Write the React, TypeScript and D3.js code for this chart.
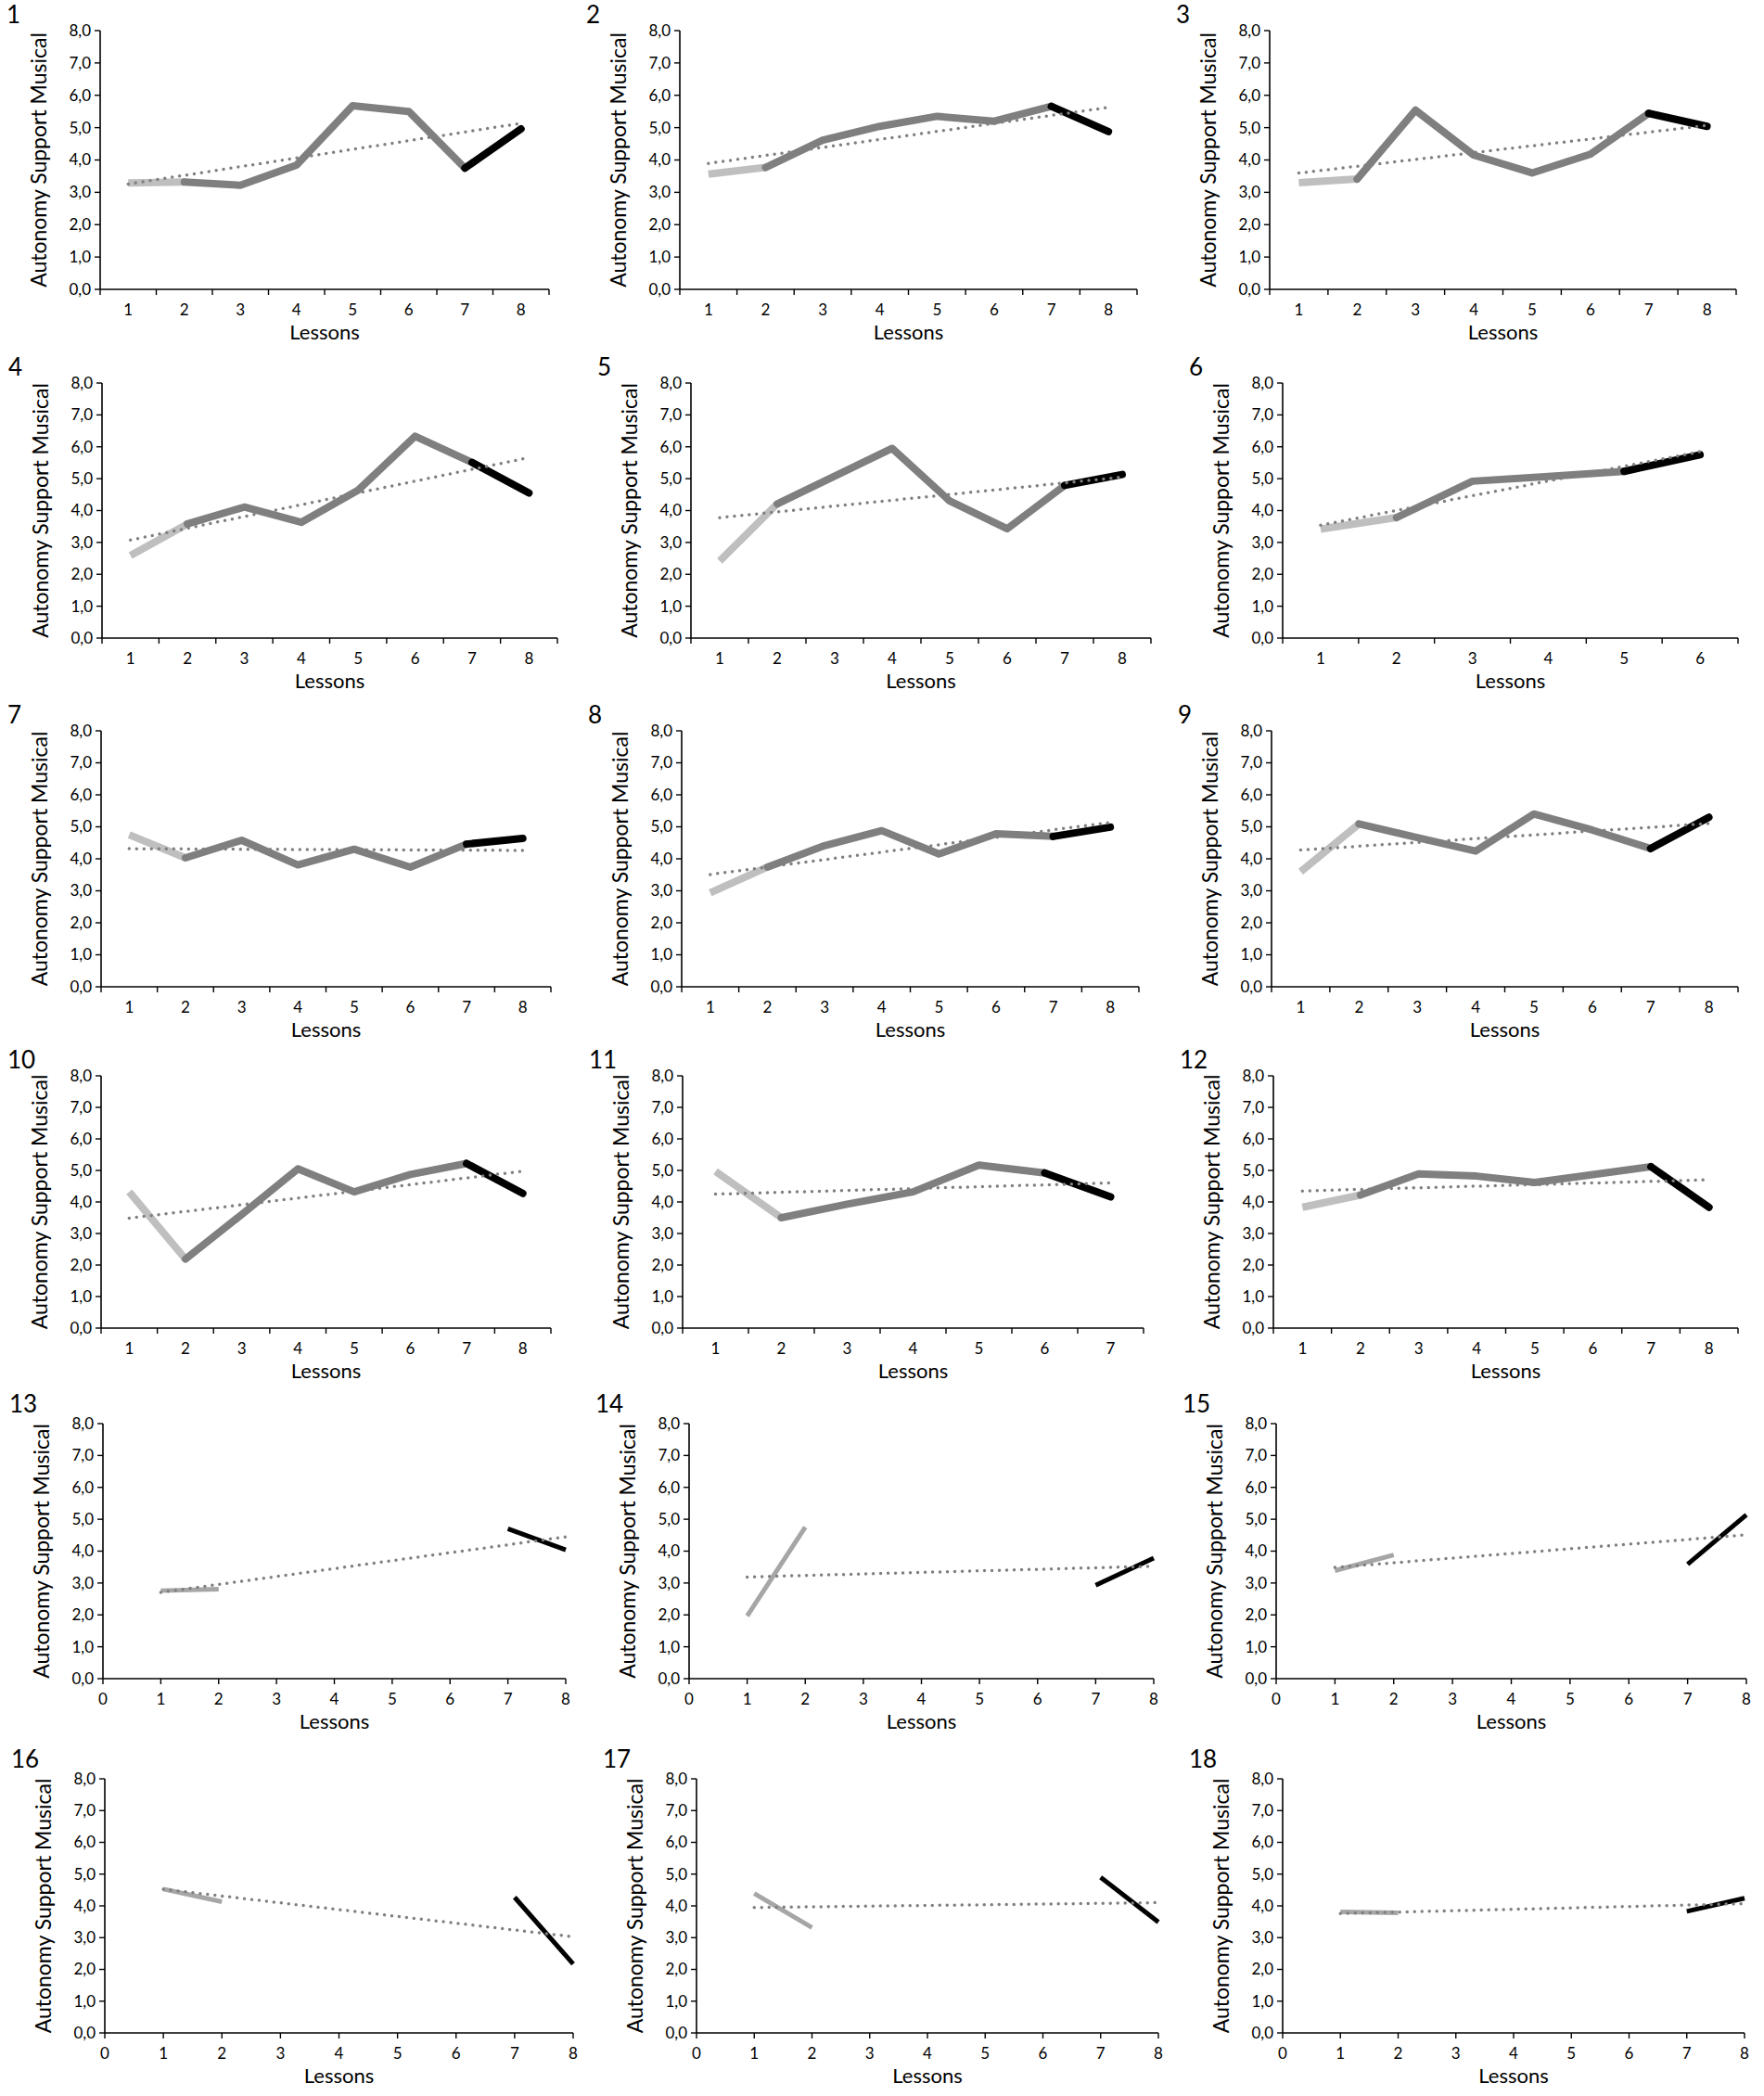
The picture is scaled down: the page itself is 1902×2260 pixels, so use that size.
import React, { useEffect, useRef } from 'react';
import * as d3 from 'd3';

// lessons on the x axis
const lessons8 = [1, 2, 3, 4, 5, 6, 7, 8];
const lessons7 = [1, 2, 3, 4, 5, 6, 7];
const lessons6 = [1, 2, 3, 4, 5, 6];
const lessonsSplit = [1, 2, 7, 8];
const yTicks = [0, 1, 2, 3, 4, 5, 6, 7, 8];
const splitTicks = [0, 1, 2, 3, 4, 5, 6, 7, 8];

// autonomy support per participant
const s1 = [3.29, 3.32, 3.22, 3.84, 5.68, 5.5, 3.75, 4.96];
const s2 = [3.56, 3.77, 4.61, 5.04, 5.35, 5.2, 5.66, 4.88];
const s3 = [3.3, 3.41, 5.54, 4.15, 3.6, 4.18, 5.44, 5.04];
const s4 = [2.59, 3.58, 4.11, 3.63, 4.64, 6.33, 5.51, 4.55];
const s5 = [2.42, 4.21, 5.08, 5.95, 4.3, 3.43, 4.79, 5.13];
const s6 = [3.42, 3.78, 4.92, 5.07, 5.23, 5.75];
const s7 = [4.75, 4.03, 4.58, 3.81, 4.3, 3.74, 4.46, 4.64];
const s8 = [2.94, 3.74, 4.41, 4.88, 4.15, 4.78, 4.7, 4.99];
const s9 = [3.6, 5.09, 4.66, 4.24, 5.4, 4.9, 4.32, 5.3];
const s10 = [4.32, 2.19, 3.6, 5.05, 4.32, 4.87, 5.22, 4.27];
const s11 = [4.97, 3.5, 3.93, 4.32, 5.17, 4.92, 4.16];
const s12 = [3.83, 4.22, 4.89, 4.82, 4.62, 4.87, 5.12, 3.83];
const s13 = [2.76, 2.81, 4.7, 4.04];
const s14 = [1.97, 4.75, 2.93, 3.78];
const s15 = [3.39, 3.88, 3.59, 5.14];
const s16 = [4.53, 4.13, 4.27, 2.17];
const s17 = [4.39, 3.32, 4.9, 3.49];
const s18 = [3.81, 3.78, 3.83, 4.24];

const panels = [
  { id: '1', lessons: lessons8, values: s1 },
  { id: '2', lessons: lessons8, values: s2 },
  { id: '3', lessons: lessons8, values: s3 },
  { id: '4', lessons: lessons8, values: s4 },
  { id: '5', lessons: lessons8, values: s5 },
  { id: '6', lessons: lessons6, values: s6 },
  { id: '7', lessons: lessons8, values: s7 },
  { id: '8', lessons: lessons8, values: s8 },
  { id: '9', lessons: lessons8, values: s9 },
  { id: '10', lessons: lessons8, values: s10 },
  { id: '11', lessons: lessons7, values: s11 },
  { id: '12', lessons: lessons8, values: s12 },
  { id: '13', lessons: lessonsSplit, values: s13 },
  { id: '14', lessons: lessonsSplit, values: s14 },
  { id: '15', lessons: lessonsSplit, values: s15 },
  { id: '16', lessons: lessonsSplit, values: s16 },
  { id: '17', lessons: lessonsSplit, values: s17 },
  { id: '18', lessons: lessonsSplit, values: s18 },
];

// plot frames: axis left, axis right, top (8,0), bottom (0,0)
const frames = [
  [108, 592, 33, 312], [733, 1226, 33, 312], [1369, 1872, 33, 312],
  [110, 601, 413, 688], [745, 1241, 413, 688], [1383, 1874, 413, 688],
  [109, 594, 788, 1064], [735, 1228, 788, 1064], [1371, 1874, 788, 1064],
  [109, 594, 1160, 1432], [736, 1233, 1160, 1432], [1373, 1874, 1160, 1432],
  [111, 610, 1535, 1810], [743, 1244, 1535, 1810], [1376, 1883, 1535, 1810],
  [113, 618, 1918, 2192], [751, 1249, 1918, 2192], [1383, 1881, 1918, 2192],
];

const FONT = 'Lato, "Open Sans", sans-serif';
const fmt = (d: number) => d.toFixed(1).replace('.', ',');

const App: React.FC = () => {
  const ref = useRef<SVGSVGElement>(null);

  useEffect(() => {
    if (!ref.current) return;
    const svg = d3.select(ref.current);
    svg.selectAll('*').remove();

    panels.forEach((p, i) => {
      const [x0, x1, top, bot] = frames[i];
      const split = p.lessons === lessonsSplit;
      const g = svg.append('g');

      const y = d3.scaleLinear().domain([0, 8]).range([bot, top]);
      let xPos: (l: number) => number;
      let tickXs: number[];
      let labelXs: { x: number; t: string }[];
      if (split) {
        const x = d3.scaleLinear().domain([0, 8]).range([x0, x1]);
        xPos = (l) => x(l);
        tickXs = splitTicks.map((t) => x(t));
        labelXs = splitTicks.map((t) => ({ x: x(t), t: String(t) }));
      } else {
        const x = d3.scaleBand<number>().domain(p.lessons).range([x0, x1]);
        const bw = x.bandwidth();
        xPos = (l) => (x(l) as number) + bw / 2;
        tickXs = d3.range(p.lessons.length + 1).map((k) => x0 + k * bw);
        labelXs = p.lessons.map((l) => ({ x: xPos(l), t: String(l) }));
      }

      // y axis
      g.append('line').attr('x1', x0).attr('x2', x0).attr('y1', top).attr('y2', bot)
        .attr('stroke', '#000').attr('stroke-width', 1.6);
      g.selectAll('.yt').data(yTicks).join('line')
        .attr('x1', x0 - 6).attr('x2', x0).attr('y1', (d) => y(d)).attr('y2', (d) => y(d))
        .attr('stroke', '#000').attr('stroke-width', 1.4);
      g.selectAll('.yl').data(yTicks).join('text')
        .attr('x', x0 - 10).attr('y', (d) => y(d)).attr('dy', '0.35em')
        .attr('text-anchor', 'end').attr('font-size', 17).attr('font-family', FONT)
        .attr('fill', '#000').text((d) => fmt(d));

      // x axis
      g.append('line').attr('x1', x0).attr('x2', x1).attr('y1', bot).attr('y2', bot)
        .attr('stroke', '#000').attr('stroke-width', 1.6);
      g.selectAll('.xt').data(tickXs).join('line')
        .attr('x1', (d) => d).attr('x2', (d) => d).attr('y1', bot).attr('y2', bot + 6)
        .attr('stroke', '#000').attr('stroke-width', 1.4);
      g.selectAll('.xl').data(labelXs).join('text')
        .attr('x', (d) => d.x).attr('y', bot + 28)
        .attr('text-anchor', 'middle').attr('font-size', 17).attr('font-family', FONT)
        .attr('fill', '#000').text((d) => d.t);

      // titles
      g.append('text').attr('x', (x0 + x1) / 2).attr('y', bot + 54)
        .attr('text-anchor', 'middle').attr('font-size', 22).attr('font-family', FONT)
        .attr('fill', '#000').text('Lessons');
      g.append('text')
        .attr('transform', `translate(${x0 - 58},${(top + bot) / 2}) rotate(-90)`)
        .attr('text-anchor', 'middle').attr('font-size', 23).attr('font-family', FONT)
        .attr('fill', '#000').text('Autonomy Support Musical');
      g.append('text').attr('x', x0 - 101).attr('y', top - (split ? 12 : 8))
        .attr('font-size', 26).attr('font-family', FONT).attr('fill', '#000').text(p.id);

      // series segments
      const pts = p.lessons.map((l, k) => ({ l, v: p.values[k] }));
      const n = pts.length;
      const line = d3.line<{ l: number; v: number }>().x((d) => xPos(d.l)).y((d) => y(d.v));
      const w = split ? 5 : 8;

      g.append('path').attr('d', line(pts.slice(0, 2)))
        .attr('fill', 'none').attr('stroke', split ? '#a6a6a6' : '#bfbfbf')
        .attr('stroke-width', w);
      if (!split) {
        g.append('path').attr('d', line(pts.slice(1, n - 1)))
          .attr('fill', 'none').attr('stroke', '#7f7f7f').attr('stroke-width', w)
          .attr('stroke-linejoin', 'round').attr('stroke-linecap', 'round');
      }
      g.append('path').attr('d', line(pts.slice(n - 2)))
        .attr('fill', 'none').attr('stroke', '#000').attr('stroke-width', w)
        .attr('stroke-linecap', split ? 'butt' : 'round');

      // linear trend over all points
      const mx = d3.mean(pts, (d) => d.l) as number;
      const my = d3.mean(pts, (d) => d.v) as number;
      const sxy = d3.sum(pts, (d) => (d.l - mx) * (d.v - my));
      const sxx = d3.sum(pts, (d) => (d.l - mx) ** 2);
      const b = sxy / sxx;
      const a = my - b * mx;
      const l0 = pts[0].l;
      const l1 = pts[n - 1].l;
      g.append('line')
        .attr('x1', xPos(l0)).attr('y1', y(a + b * l0))
        .attr('x2', xPos(l1)).attr('y2', y(a + b * l1))
        .attr('stroke', '#7f7f7f').attr('stroke-width', 3.5)
        .attr('stroke-linecap', 'round').attr('stroke-dasharray', '0 8');
    });
  }, []);

  return (
    <div style={{ position: 'absolute', left: 0, top: 0, background: '#fff' }}>
      <svg ref={ref} width={1902} height={2260} style={{ display: 'block' }} />
    </div>
  );
};

export default App;
